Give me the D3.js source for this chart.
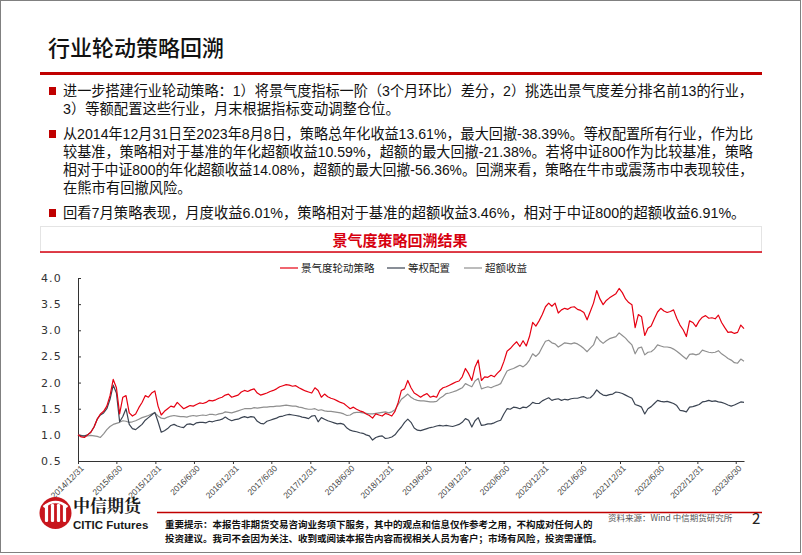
<!DOCTYPE html>
<html>
<head>
<meta charset="utf-8">
<script src="https://cdn.jsdelivr.net/npm/d3@7"></script>
<style>
  body { margin: 0; background: #fff; }
  svg { display: block; font-family: "Noto Sans CJK SC", "Noto Sans", sans-serif; }
  .para { font-family: "Liberation Sans", "Noto Sans CJK SC", sans-serif; }
</style>
</head>
<body>
<svg id="page" width="802" height="555"></svg>
<script>
// series values, one point every ~half month from 2014/12/31 to 2023/8/8
const strategy = [
  1.00, 0.96, 0.95, 1.00, 1.05, 1.15, 1.30, 1.40, 1.45, 1.55,
  1.75, 2.06, 1.90, 1.40, 1.72, 1.75, 1.42, 1.36, 1.40, 1.52,
  1.62, 1.75, 1.72, 1.80, 1.84, 1.55, 1.38, 1.45, 1.50, 1.55,
  1.53, 1.62, 1.56, 1.50, 1.53, 1.56, 1.55, 1.58, 1.61, 1.60,
  1.62, 1.66, 1.65, 1.67, 1.70, 1.72, 1.76, 1.78, 1.72, 1.74,
  1.76, 1.82, 1.85, 1.83, 1.86, 1.88, 1.80, 1.76, 1.78, 1.80,
  1.83, 1.85, 1.88, 1.92, 1.94, 1.96, 1.95, 1.93, 1.94, 1.90,
  1.87, 1.84, 1.82, 1.80, 1.90, 1.85, 1.72, 1.78, 1.73, 1.70,
  1.68, 1.65, 1.62, 1.60, 1.55, 1.50, 1.53, 1.49, 1.46, 1.44,
  1.40, 1.37, 1.32, 1.40, 1.38, 1.36, 1.41, 1.39, 1.36, 1.45,
  1.62, 1.85, 1.88, 2.04, 1.90, 1.80, 1.76, 1.72, 1.76, 1.79,
  1.72, 1.74, 1.72, 1.85, 1.90, 1.92, 1.95, 1.98, 2.01, 2.03,
  2.11, 2.27, 2.17, 2.04, 2.30, 2.43, 2.04, 2.11, 2.10, 2.14,
  2.11, 2.18, 2.24, 2.40, 2.60, 2.65, 2.72, 2.78, 2.69, 2.80,
  2.70, 2.88, 3.15, 3.08, 3.18, 3.30, 3.45, 3.52, 3.46, 3.52,
  3.33, 3.39, 3.42, 3.40, 3.44, 3.45, 3.40, 3.38, 3.34, 3.20,
  3.36, 3.52, 3.76, 3.60, 3.49, 3.57, 3.62, 3.66, 3.70, 3.80,
  3.72, 3.60, 3.53, 3.49, 3.05, 3.30, 3.26, 2.90, 3.04, 3.08,
  3.22, 3.35, 3.42, 3.37, 3.34, 3.36, 3.39, 3.23, 3.10, 3.01,
  2.88, 3.18, 3.15, 3.07, 3.18, 3.25, 3.28, 3.23, 3.24, 3.22,
  3.29, 3.15, 3.05, 2.96, 2.97, 2.94, 2.96, 3.10, 3.03
];
const equalWeight = [
  1.00, 0.98, 0.98, 1.00, 1.05, 1.15, 1.30, 1.38, 1.42, 1.50,
  1.68, 1.95, 1.80, 1.25, 1.35, 1.50, 1.20, 1.12, 1.10, 1.15,
  1.20, 1.28, 1.33, 1.38, 1.43, 1.25, 1.05, 1.08, 1.12, 1.18,
  1.20, 1.17, 1.15, 1.14, 1.20, 1.21, 1.19, 1.23, 1.24, 1.24,
  1.23, 1.26, 1.25, 1.27, 1.28, 1.30, 1.34, 1.30, 1.27, 1.29,
  1.30, 1.33, 1.35, 1.33, 1.35, 1.34, 1.26, 1.22, 1.21, 1.26,
  1.28, 1.30, 1.32, 1.35, 1.36, 1.38, 1.39, 1.38, 1.37, 1.36,
  1.34, 1.33, 1.31, 1.36, 1.37, 1.25, 1.33, 1.30, 1.27, 1.25,
  1.23, 1.21, 1.22, 1.20, 1.13, 1.09, 1.07, 1.06, 1.04, 1.03,
  1.00, 0.98, 0.90, 0.95, 0.97, 0.98, 0.93, 0.94, 0.96, 1.00,
  1.08, 1.15, 1.24, 1.30, 1.24, 1.13, 1.09, 1.08, 1.10, 1.12,
  1.14, 1.15, 1.17, 1.18, 1.17, 1.18, 1.17, 1.16, 1.18, 1.20,
  1.24, 1.31, 1.28, 1.15, 1.27, 1.33, 1.18, 1.19, 1.21, 1.21,
  1.23, 1.26, 1.28, 1.40, 1.50, 1.49, 1.53, 1.52, 1.50, 1.53,
  1.52, 1.56, 1.62, 1.60, 1.60, 1.65, 1.68, 1.71, 1.66, 1.68,
  1.69, 1.66, 1.68, 1.67, 1.69, 1.70, 1.70, 1.72, 1.73, 1.70,
  1.71, 1.77, 1.86, 1.80, 1.76, 1.75, 1.77, 1.78, 1.82, 1.81,
  1.79, 1.76, 1.73, 1.70, 1.58, 1.56, 1.53, 1.40, 1.50, 1.54,
  1.60, 1.66, 1.64, 1.63, 1.64, 1.62, 1.60, 1.56, 1.47, 1.46,
  1.44, 1.53, 1.54, 1.56, 1.58, 1.63, 1.64, 1.66, 1.64, 1.65,
  1.63, 1.62, 1.60, 1.57, 1.55, 1.57, 1.60, 1.63, 1.62
];
const excess = [
  1.00, 0.99, 0.97, 0.98, 0.99, 0.98, 0.97, 0.95, 1.02, 1.10,
  1.16, 1.20, 1.22, 1.24, 1.27, 1.26, 1.24, 1.25, 1.27, 1.30,
  1.33, 1.35, 1.37, 1.40, 1.42, 1.36, 1.32, 1.31, 1.34, 1.36,
  1.37, 1.36, 1.35, 1.35, 1.34, 1.36, 1.37, 1.36, 1.37, 1.38,
  1.37, 1.39, 1.39, 1.38, 1.40, 1.41, 1.44, 1.43, 1.42, 1.44,
  1.46, 1.48, 1.50, 1.50, 1.50, 1.52, 1.51, 1.52, 1.53, 1.53,
  1.54, 1.54, 1.55, 1.55, 1.56, 1.57, 1.56, 1.55, 1.55, 1.53,
  1.52, 1.50, 1.49, 1.49, 1.50, 1.47, 1.48, 1.46, 1.45, 1.45,
  1.44, 1.43, 1.42, 1.40, 1.37, 1.38, 1.42, 1.43, 1.43, 1.42,
  1.41, 1.40, 1.40, 1.41, 1.42, 1.43, 1.44, 1.42, 1.44, 1.48,
  1.58, 1.68, 1.73, 1.78, 1.72, 1.68, 1.66, 1.65, 1.65, 1.64,
  1.63, 1.63, 1.64, 1.70, 1.74, 1.79, 1.80, 1.82, 1.84, 1.87,
  1.90, 1.98, 1.95, 1.92, 2.03, 2.08, 1.88, 1.90, 1.92, 1.90,
  1.93, 1.95, 1.98, 2.10, 2.22, 2.25, 2.27, 2.30, 2.33, 2.30,
  2.35, 2.43, 2.55, 2.50, 2.56, 2.68, 2.79, 2.81, 2.76, 2.74,
  2.68, 2.72, 2.76, 2.75, 2.74, 2.76, 2.74, 2.70, 2.65, 2.59,
  2.66, 2.72, 2.88, 2.80, 2.75, 2.80, 2.84, 2.86, 2.88, 2.95,
  2.90, 2.85, 2.78, 2.72, 2.55, 2.66, 2.68, 2.53, 2.58, 2.59,
  2.64, 2.72, 2.70, 2.68, 2.68, 2.67, 2.64, 2.60, 2.55, 2.50,
  2.45, 2.54, 2.55, 2.53, 2.55, 2.62, 2.60, 2.58, 2.57, 2.58,
  2.61, 2.55, 2.51, 2.46, 2.43, 2.38, 2.37, 2.45, 2.41
];
const seriesNames = ["景气度轮动策略", "等权配置", "超额收益"];
const seriesColors = ["#e60012", "#3b4452", "#8f8f8f"];
const tickLabels = ["2014/12/31", "2015/6/30", "2015/12/31", "2016/6/30", "2016/12/31",
  "2017/6/30", "2017/12/31", "2018/6/30", "2018/12/31", "2019/6/30", "2019/12/31",
  "2020/6/30", "2020/12/31", "2021/6/30", "2021/12/31", "2022/6/30", "2022/12/31", "2023/6/30"];
const yTicks = [0.5, 1.0, 1.5, 2.0, 2.5, 3.0, 3.5, 4.0];
const startDate = new Date(2014, 11, 31);
const endDate = new Date(2023, 7, 8);

const bullets = [
  ["进一步搭建行业轮动策略：1）将景气度指标一阶（3个月环比）差分，2）挑选出景气度差分排名前13的行业，",
   "3）等额配置这些行业，月末根据指标变动调整仓位。"],
  ["从2014年12月31日至2023年8月8日，策略总年化收益13.61%，最大回撤-38.39%。等权配置所有行业，作为比",
   "较基准，策略相对于基准的年化超额收益10.59%，超额的最大回撤-21.38%。若将中证800作为比较基准，策略",
   "相对于中证800的年化超额收益14.08%，超额的最大回撤-56.36%。回溯来看，策略在牛市或震荡市中表现较佳，",
   "在熊市有回撤风险。"],
  ["回看7月策略表现，月度收益6.01%，策略相对于基准的超额收益3.46%，相对于中证800的超额收益6.91%。"]
];
const bulletTop = [91, 134, 213];
const disclaimer = [
  "重要提示：本报告非期货交易咨询业务项下服务，其中的观点和信息仅作参考之用，不构成对任何人的",
  "投资建议。我司不会因为关注、收到或阅读本报告内容而视相关人员为客户；市场有风险，投资需谨慎。"
];

const svg = d3.select("#page");

// page frame, title and red bar
svg.append("rect").attr("x", 0.5).attr("y", 0.5).attr("width", 800).attr("height", 552)
  .attr("fill", "none").attr("stroke", "#808080");
svg.append("text").attr("x", 48).attr("y", 56).attr("font-size", 22).attr("font-weight", 500)
  .attr("fill", "#111").text("行业轮动策略回溯");
svg.append("rect").attr("x", 40).attr("y", 72).attr("width", 722).attr("height", 3).attr("fill", "#c00000");

// bullet paragraphs
bullets.forEach((lines, b) => {
  svg.append("rect").attr("x", 49).attr("y", bulletTop[b] - 4).attr("width", 7).attr("height", 8)
    .attr("fill", "#c00000");
  lines.forEach((line, k) => {
    const t = svg.append("text").attr("class", "para").attr("x", 63).attr("y", bulletTop[b] + 5 + k * 18)
      .attr("font-size", 14.3).attr("fill", "#111").text(line);
    const w = t.node().getComputedTextLength();
    if (w > 690) t.attr("textLength", 690).attr("lengthAdjust", "spacingAndGlyphs");
  });
});

// chart title box
svg.append("rect").attr("x", 40.5).attr("y", 226.5).attr("width", 721).attr("height", 26)
  .attr("fill", "none").attr("stroke", "#e4e4e4");
svg.append("text").attr("x", 400).attr("y", 246).attr("text-anchor", "middle")
  .attr("font-size", 15).attr("font-weight", 700).attr("fill", "#d7000f").text("景气度策略回溯结果");
svg.append("line").attr("x1", 40).attr("x2", 762).attr("y1", 252).attr("y2", 252)
  .attr("stroke", "#d7000f").attr("stroke-width", 1.5);

// legend
const legendX = [280, 387, 464];
seriesNames.forEach((name, i) => {
  svg.append("line").attr("x1", legendX[i]).attr("x2", legendX[i] + 18).attr("y1", 268).attr("y2", 268)
    .attr("stroke", seriesColors[i]).attr("stroke-width", 1.2);
  svg.append("text").attr("x", legendX[i] + 21).attr("y", 272).attr("font-size", 10.5)
    .attr("fill", "#222").text(name);
});

// scales and axes
const x = d3.scaleTime().domain([startDate, endDate]).range([78, 744]);
const y = d3.scaleLinear().domain([0.5, 4.0]).range([461, 278]);
const parseTick = d3.timeParse("%Y/%m/%d");
const step = (endDate - startDate) / (strategy.length - 1);
const dateAt = i => new Date(startDate.getTime() + i * step);

const yAxis = svg.append("g").attr("transform", "translate(78,0)")
  .call(d3.axisRight(y).tickValues(yTicks).tickSize(3).tickFormat(d3.format(".1f")));
yAxis.select(".domain").attr("stroke", "#333");
yAxis.selectAll(".tick line").attr("stroke", "#333");
yAxis.selectAll(".tick text").attr("x", -16).attr("text-anchor", "end")
  .attr("font-size", 11).attr("fill", "#333").attr("letter-spacing", 1.2)
  .attr("font-family", "DejaVu Sans");

const xAxis = svg.append("g").attr("transform", "translate(0,461)")
  .call(d3.axisBottom(x).tickValues(tickLabels.map(parseTick)).tickSize(3).tickSizeOuter(0));
xAxis.select(".domain").attr("stroke", "#333");
xAxis.selectAll(".tick line").attr("stroke", "#333");
xAxis.selectAll(".tick text").data(tickLabels).text(d => d)
  .attr("font-size", 8.5).attr("fill", "#444").attr("text-anchor", "end")
  .attr("transform", "translate(1,3) rotate(-45)").attr("dy", "0.35em").attr("y", 4).attr("x", 0);

// lines: excess first, then equal weight, then the strategy on top
const line = d3.line().x((d, i) => x(dateAt(i))).y(d => y(d));
[[excess, 2], [equalWeight, 1], [strategy, 0]].forEach(([vals, c]) => {
  svg.append("path").datum(vals).attr("d", line).attr("fill", "none")
    .attr("stroke", seriesColors[c]).attr("stroke-width", 1.2).attr("stroke-linejoin", "round");
});

// footer logo
const logo = svg.append("g").attr("transform", "translate(55.5,513)");
logo.append("circle").attr("r", 16).attr("fill", "#c8161d");
[-9, -3, 3, 9].forEach(dx => {
  logo.append("rect").attr("x", dx - 1.6).attr("y", -9).attr("width", 3.2).attr("height", 18)
    .attr("rx", 1.2).attr("fill", "#fff");
});
logo.append("path").attr("d", "M-12,-6 Q0,-16 12,-6").attr("fill", "none").attr("stroke", "#fff").attr("stroke-width", 2.4);
svg.append("text").attr("x", 73).attr("y", 512).attr("font-size", 17).attr("font-weight", 700)
  .attr("font-family", "Noto Serif CJK SC, Noto Sans CJK SC").attr("fill", "#1a1a1a").text("中信期货");
svg.append("text").attr("x", 73).attr("y", 529).attr("font-size", 11.5).attr("font-weight", 700)
  .attr("font-family", "Liberation Sans Narrow, Liberation Sans").attr("fill", "#1a1a1a").text("CITIC Futures");

// footer line and texts
svg.append("line").attr("x1", 157).attr("x2", 762).attr("y1", 512.5).attr("y2", 512.5)
  .attr("stroke", "#c00000").attr("stroke-width", 1.5);
disclaimer.forEach((line, k) => {
  svg.append("text").attr("class", "para").attr("x", 165).attr("y", 527.5 + k * 14)
    .attr("font-size", 9.5).attr("font-weight", 700).attr("fill", "#111").text(line);
});
svg.append("text").attr("x", 608).attr("y", 521).attr("font-size", 8.5)
  .attr("fill", "#555").text("资料来源：Wind 中信期货研究所");
svg.append("text").attr("x", 752).attr("y", 524).attr("font-size", 15)
  .attr("fill", "#222").text("2");
</script>
</body>
</html>
